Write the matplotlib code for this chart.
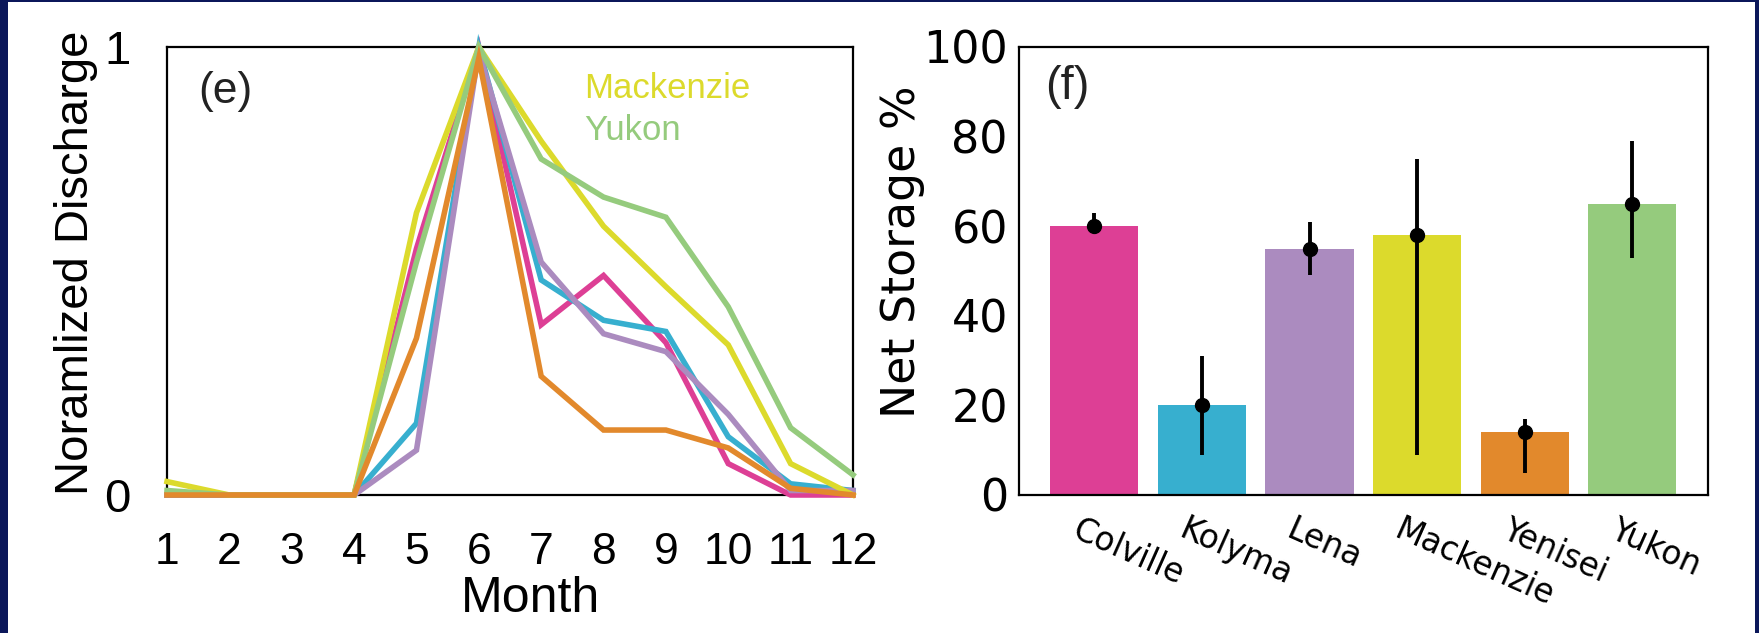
import numpy as np
import matplotlib
matplotlib.use("Agg")
import matplotlib.pyplot as plt
from matplotlib.patches import Rectangle
from matplotlib.transforms import ScaledTranslation

months = np.arange(1, 13)

# normalized monthly discharge per river
colville = [0.0, 0.0, 0.0, 0.0, 0.55, 1.0, 0.38, 0.49, 0.34, 0.07, 0.0, 0.0]
kolyma = [0.0, 0.0, 0.0, 0.0, 0.16, 1.0, 0.48, 0.39, 0.365, 0.13, 0.025, 0.01]
lena = [0.0, 0.0, 0.0, 0.0, 0.10, 0.99, 0.52, 0.36, 0.32, 0.18, 0.01, 0.01]
mackenzie = [0.03, 0.0, 0.0, 0.0, 0.63, 1.0, 0.79, 0.60, 0.465, 0.335, 0.07, 0.0]
yukon = [0.01, 0.0, 0.0, 0.0, 0.52, 1.0, 0.75, 0.665, 0.62, 0.42, 0.15, 0.045]
yenisei = [0.0, 0.0, 0.0, 0.0, 0.35, 0.975, 0.265, 0.145, 0.145, 0.105, 0.015, 0.0]

rivers = ["Colville", "Kolyma", "Lena", "Mackenzie", "Yenisei", "Yukon"]
net_storage = np.array([60, 20, 55, 58, 14, 65])
storage_low = np.array([59, 9, 49, 9, 5, 53])
storage_high = np.array([63, 31, 61, 75, 17, 79])

colors = {
    "Colville": "#dd3f95",
    "Kolyma": "#37afcf",
    "Lena": "#ab8bbf",
    "Mackenzie": "#dcda2c",
    "Yenisei": "#e2892c",
    "Yukon": "#95cb7d",
}

W, H = 1759, 633
fig = plt.figure(figsize=(W / 100, H / 100), dpi=100, facecolor="#0b175a")
fig.add_artist(Rectangle((8 / W, 0), (1755 - 8) / W, 631 / H,
                         transform=fig.transFigure, facecolor="white",
                         edgecolor="none", zorder=0))

arial = ["Liberation Sans", "DejaVu Sans"]

# (e) monthly hydrographs
ax1 = fig.add_axes([167 / W, 138 / H, 686 / W, 448 / H])
series = [("Colville", colville), ("Kolyma", kolyma), ("Lena", lena),
          ("Mackenzie", mackenzie), ("Yukon", yukon), ("Yenisei", yenisei)]
for name, vals in series:
    ax1.plot(months, vals, color=colors[name], lw=4, clip_on=False,
             zorder=3, solid_joinstyle="miter")
ax1.set_xlim(1, 12)
ax1.set_ylim(0, 1)
ax1.set_xticks(months)
ax1.set_yticks([0, 1])
ax1.tick_params(axis="x", length=0, pad=27, labelsize=32)
ax1.tick_params(axis="y", length=0, pad=26, labelsize=34)
for lab in ax1.get_xticklabels() + ax1.get_yticklabels():
    lab.set_family(arial)
for sp in ax1.spines.values():
    sp.set_linewidth(1.6)
ax1.set_xlabel("Month", fontsize=36, family=arial)
ax1.xaxis.set_label_coords(0.53, -0.18)
ax1.xaxis.label.set_va("top")
ax1.set_ylabel("Noramlized Discharge", fontsize=34, family=arial)
ax1.yaxis.set_label_coords(-0.1, 0.518)
ax1.text(0.045, 0.874, "(e)", transform=ax1.transAxes, fontsize=32,
         family=arial, color="#222222", va="baseline")
ax1.text(0.608, 0.886, "Mackenzie", transform=ax1.transAxes, fontsize=25,
         family=arial, color=colors["Mackenzie"], va="baseline")
ax1.text(0.608, 0.792, "Yukon", transform=ax1.transAxes, fontsize=25,
         family=arial, color=colors["Yukon"], va="baseline")

# (f) net storage with ranges
ax2 = fig.add_axes([1019 / W, 138 / H, 688.6 / W, 448 / H])
x = np.arange(len(rivers))
ax2.bar(x, net_storage, width=0.82, color=[colors[r] for r in rivers])
ax2.errorbar(x, net_storage,
             yerr=[net_storage - storage_low, storage_high - net_storage],
             fmt="o", color="black", ms=10, elinewidth=2.8, capsize=0)
ax2.set_xlim(-0.7, 5.7)
ax2.set_ylim(0, 100)
ax2.set_yticks(range(0, 101, 20))
ax2.set_xticks(x)
ax2.set_xticklabels(rivers)
ax2.tick_params(axis="y", length=0, pad=8, labelsize=32)
ax2.tick_params(axis="x", length=0, pad=13, labelsize=23.5)
shift = ScaledTranslation(-14 / 100, 0, fig.dpi_scale_trans)
for lab in ax2.get_xticklabels():
    lab.set_rotation(-24)
    lab.set_ha("left")
    lab.set_rotation_mode("anchor")
    lab.set_transform(lab.get_transform() + shift)
for sp in ax2.spines.values():
    sp.set_linewidth(1.6)
ax2.set_ylabel("Net Storage %", fontsize=33)
ax2.yaxis.set_label_coords(-0.137, 0.542)
ax2.text(0.038, 0.883, "(f)", transform=ax2.transAxes, fontsize=34,
         family=arial, color="#222222", va="baseline")

fig.savefig("out.png", dpi=100, facecolor=fig.get_facecolor())
